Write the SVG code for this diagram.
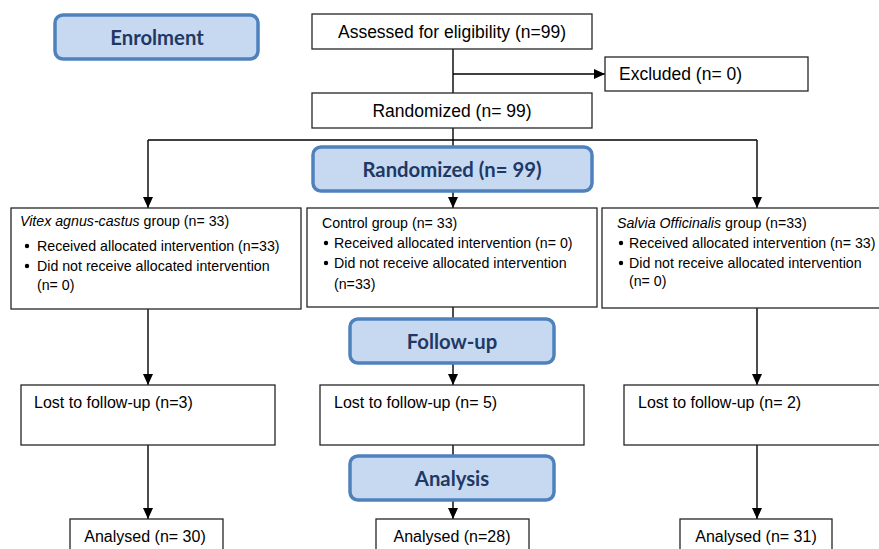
<svg xmlns="http://www.w3.org/2000/svg" width="879" height="549" viewBox="0 0 879 549">
<defs>
<marker id="ah" markerUnits="userSpaceOnUse" markerWidth="12" markerHeight="12" viewBox="0 0 12 12" refX="11" refY="6" orient="auto">
<path d="M0,1 L11,6 L0,11 Z" fill="#000"/>
</marker>
</defs>
<style>
.box{fill:#fff;stroke:#262626;stroke-width:1.3}
.stage{fill:#c6d9f1;stroke:#4f81bd;stroke-width:3.5}
.stxt{font-family:Lato,"Open Sans",sans-serif;font-weight:bold;font-size:20.3px;fill:#1f3864;text-anchor:middle}
.t17{font-family:"Liberation Sans",Arial,sans-serif;font-size:17.5px;fill:#000}
.t16{font-family:"Liberation Sans",Arial,sans-serif;font-size:16px;fill:#000}
.t14{font-family:"Liberation Sans",Arial,sans-serif;font-size:14.2px;fill:#000}
.c{text-anchor:middle}
.ln{fill:none;stroke:#000;stroke-width:1.4}
.arr{fill:none;stroke:#000;stroke-width:1.4;marker-end:url(#ah)}
</style>
<g id="connectors">
<line class="ln" x1="453" y1="49" x2="453" y2="93"/>
<line class="arr" x1="453" y1="74" x2="605" y2="74"/>
<polyline class="ln" points="453,128 453,140"/>
<line class="ln" x1="148" y1="140" x2="757" y2="140"/>
<line class="arr" x1="148" y1="140" x2="148" y2="208"/>
<line class="arr" x1="453" y1="140" x2="453" y2="208"/>
<line class="arr" x1="757" y1="140" x2="757" y2="208"/>
<line class="arr" x1="148" y1="309" x2="148" y2="385"/>
<line class="arr" x1="453" y1="307" x2="453" y2="385"/>
<line class="arr" x1="757" y1="308" x2="757" y2="385"/>
<line class="arr" x1="148" y1="445" x2="148" y2="519"/>
<line class="arr" x1="453" y1="445" x2="453" y2="519"/>
<line class="arr" x1="757" y1="445" x2="757" y2="519"/>
</g>
<g id="enrolment">
<rect class="stage" x="55" y="15" width="203" height="44" rx="8"/>
<text class="stxt" x="157" y="45">Enrolment</text>
</g>
<g id="assessed">
<rect class="box" x="312" y="14" width="280" height="35"/>
<text class="t17 c" x="452" y="38">Assessed for eligibility (n=99)</text>
</g>
<g id="excluded">
<rect class="box" x="605" y="57" width="203" height="34"/>
<text class="t17" x="619" y="80">Excluded (n= 0)</text>
</g>
<g id="randomized">
<rect class="box" x="312" y="93" width="280" height="35"/>
<text class="t17 c" x="452" y="117">Randomized (n= 99)</text>
</g>
<g id="randomized-stage">
<rect class="stage" x="313" y="147" width="279" height="44" rx="8"/>
<text class="stxt" x="452" y="177">Randomized (n= 99)</text>
</g>
<g id="vitex">
<rect class="box" x="11" y="208" width="290" height="101"/>
<text class="t14" x="20" y="226"><tspan font-style="italic">Vitex agnus-castus</tspan> group (n= 33)</text>
<circle cx="27" cy="246" r="2.2"/>
<text class="t14" x="37" y="251">Received allocated intervention (n=33)</text>
<circle cx="27" cy="266" r="2.2"/>
<text class="t14" x="37" y="271">Did not receive allocated intervention</text>
<text class="t14" x="37" y="290">(n= 0)</text>
</g>
<g id="control">
<rect class="box" x="307" y="208" width="290" height="99"/>
<text class="t14" x="322" y="228">Control group (n= 33)</text>
<circle cx="326" cy="243" r="2.2"/>
<text class="t14" x="334" y="248">Received allocated intervention (n= 0)</text>
<circle cx="326" cy="263" r="2.2"/>
<text class="t14" x="334" y="268">Did not receive allocated intervention</text>
<text class="t14" x="334" y="289">(n=33)</text>
</g>
<g id="salvia">
<rect class="box" x="602" y="208" width="290" height="100"/>
<text class="t14" x="617" y="228"><tspan font-style="italic">Salvia Officinalis</tspan> group (n=33)</text>
<circle cx="621" cy="243" r="2.2"/>
<text class="t14" x="629" y="248">Received allocated intervention (n= 33)</text>
<circle cx="621" cy="263" r="2.2"/>
<text class="t14" x="629" y="268">Did not receive allocated intervention</text>
<text class="t14" x="629" y="286">(n= 0)</text>
</g>
<g id="followup-stage">
<rect class="stage" x="350" y="319" width="204" height="44" rx="8"/>
<text class="stxt" x="452" y="349">Follow-up</text>
</g>
<g id="lost1">
<rect class="box" x="21" y="385" width="254" height="60"/>
<text class="t16" x="34" y="408">Lost to follow-up (n=3)</text>
</g>
<g id="lost2">
<rect class="box" x="320" y="385" width="264" height="60"/>
<text class="t16" x="334" y="408">Lost to follow-up (n= 5)</text>
</g>
<g id="lost3">
<rect class="box" x="624" y="385" width="265" height="60"/>
<text class="t16" x="638" y="408">Lost to follow-up (n= 2)</text>
</g>
<g id="analysis-stage">
<rect class="stage" x="350" y="456" width="204" height="44" rx="8"/>
<text class="stxt" x="452" y="486">Analysis</text>
</g>
<g id="analysed1">
<rect class="box" x="70" y="519" width="153" height="45"/>
<text class="t16 c" x="145" y="542">Analysed (n= 30)</text>
</g>
<g id="analysed2">
<rect class="box" x="376" y="519" width="153" height="45"/>
<text class="t16 c" x="452" y="542">Analysed (n=28)</text>
</g>
<g id="analysed3">
<rect class="box" x="680" y="519" width="152" height="45"/>
<text class="t16 c" x="756" y="542">Analysed (n= 31)</text>
</g>
</svg>
